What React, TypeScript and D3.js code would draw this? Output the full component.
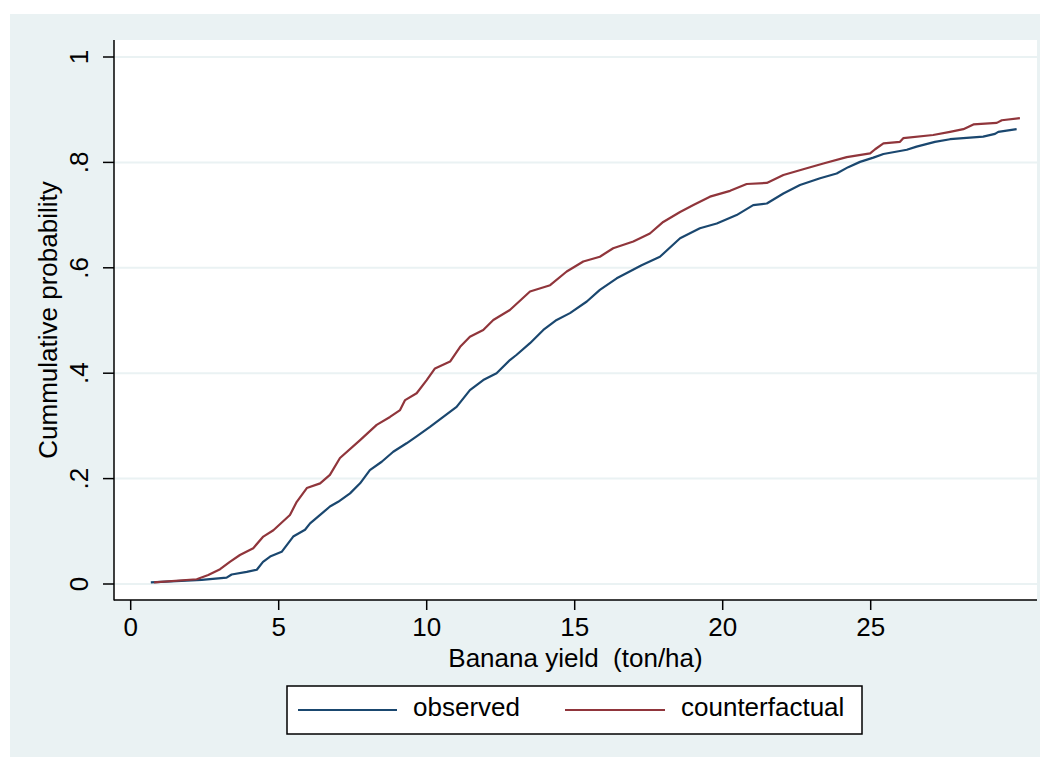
import React from "react";
import * as d3 from "d3";

const obsX = [0.68, 2.4, 3.24, 3.41, 3.92, 4.26, 4.47, 4.71, 5.1, 5.49, 5.89, 6.06, 6.4, 6.73, 7.01, 7.41, 7.75, 8.08, 8.48, 8.87, 9.32, 9.66, 10.11, 10.56, 11.01, 11.46, 11.91, 12.36, 12.81, 13.04, 13.49, 13.94, 14.39, 14.84, 15.41, 15.85, 16.42, 16.76, 17.26, 17.88, 18.56, 19.23, 19.8, 20.47, 21.03, 21.49, 22.05, 22.61, 23.29, 23.85, 24.24, 24.64, 25.09, 25.43, 26.22, 26.55, 27.17, 27.68, 28.8, 29.2, 29.31, 29.93];
const obsY = [0.003, 0.008, 0.012, 0.018, 0.023, 0.027, 0.042, 0.052, 0.061, 0.09, 0.103, 0.115, 0.131, 0.147, 0.156, 0.172, 0.191, 0.216, 0.232, 0.251, 0.267, 0.28, 0.298, 0.317, 0.336, 0.368, 0.387, 0.4, 0.425, 0.435, 0.457, 0.482, 0.501, 0.514, 0.536, 0.558, 0.58, 0.59, 0.605, 0.621, 0.656, 0.675, 0.684, 0.7, 0.719, 0.722, 0.741, 0.757, 0.77, 0.779, 0.791, 0.801, 0.809, 0.816, 0.824, 0.83, 0.839, 0.844, 0.849, 0.854, 0.858, 0.863];

const cfX = [0.79, 2.23, 2.62, 3.02, 3.35, 3.69, 4.14, 4.48, 4.82, 5.38, 5.61, 5.95, 6.4, 6.73, 7.07, 7.75, 8.31, 8.76, 9.1, 9.27, 9.66, 10.0, 10.28, 10.79, 11.13, 11.46, 11.91, 12.25, 12.81, 13.49, 14.17, 14.73, 15.29, 15.85, 16.3, 16.98, 17.54, 17.99, 18.56, 19.01, 19.57, 20.25, 20.81, 21.49, 22.05, 22.72, 23.4, 24.19, 24.98, 25.15, 25.43, 25.99, 26.1, 27.11, 27.68, 28.13, 28.47, 29.26, 29.43, 30.04];
const cfY = [0.003, 0.009, 0.017, 0.028, 0.042, 0.055, 0.068, 0.09, 0.102, 0.131, 0.156, 0.182, 0.191, 0.207, 0.239, 0.273, 0.302, 0.317, 0.33, 0.349, 0.362, 0.387, 0.409, 0.422, 0.45, 0.469, 0.482, 0.501, 0.52, 0.555, 0.567, 0.593, 0.612, 0.621, 0.637, 0.65, 0.665, 0.687, 0.706, 0.719, 0.735, 0.746, 0.759, 0.761, 0.776, 0.787, 0.798, 0.81, 0.817, 0.825, 0.836, 0.839, 0.846, 0.852, 0.858, 0.863, 0.872, 0.875, 0.88, 0.884];

const xTicks = [0, 5, 10, 15, 20, 25];
const yTicks = [0, 0.2, 0.4, 0.6, 0.8, 1];
const yTickLabels = ["0", ".2", ".4", ".6", ".8", "1"];
const seriesNames = ["observed", "counterfactual"];
const seriesColors = ["#1a476f", "#90353b"];

const FONT = "'Liberation Sans', Arial, sans-serif";
const FS = 26;

export default function App() {
  const left = 114, right = 1037, top = 40, bottom = 600;
  const x = d3.scaleLinear().domain([0, 25]).range([130.7, 870.7]);
  const y = d3.scaleLinear().domain([0, 1]).range([584, 57]);

  const line = d3.line<[number, number]>().x(d => x(d[0])).y(d => y(d[1]));
  const obs = obsX.map((v, i) => [v, obsY[i]] as [number, number]);
  const cf = cfX.map((v, i) => [v, cfY[i]] as [number, number]);

  return (
    <svg width={1050} height={761} style={{ position: "absolute", left: 0, top: 0 }} fontFamily={FONT}>
      <rect x={0} y={0} width={1050} height={761} fill="#ffffff" />
      <rect x={10} y={14} width={1030} height={743} fill="#eaf2f3" />
      <rect x={left} y={top} width={right - left} height={bottom - top} fill="#ffffff" />
      {yTicks.map(t => (
        <line key={"g" + t} x1={left} x2={right} y1={y(t)} y2={y(t)} stroke="#eaf2f3" strokeWidth={2} />
      ))}
      <path d={line(obs) || ""} fill="none" stroke={seriesColors[0]} strokeWidth={2.2} strokeLinejoin="round" />
      <path d={line(cf) || ""} fill="none" stroke={seriesColors[1]} strokeWidth={2.2} strokeLinejoin="round" />
      <line x1={left} x2={left} y1={top} y2={bottom + 0.5} stroke="#000" strokeWidth={1.5} />
      <line x1={left} x2={right} y1={bottom} y2={bottom} stroke="#000" strokeWidth={1.5} />
      {yTicks.map((t, i) => (
        <g key={"yt" + t}>
          <line x1={left - 11} x2={left} y1={y(t)} y2={y(t)} stroke="#000" strokeWidth={1.5} />
          <text x={88} y={y(t)} transform={`rotate(-90, 88, ${y(t)})`} textAnchor="middle" fontSize={FS} fill="#000">
            {yTickLabels[i]}
          </text>
        </g>
      ))}
      {xTicks.map(t => (
        <g key={"xt" + t}>
          <line x1={x(t)} x2={x(t)} y1={bottom} y2={bottom + 10} stroke="#000" strokeWidth={1.5} />
          <text x={x(t)} y={636} textAnchor="middle" fontSize={FS} fill="#000">{t}</text>
        </g>
      ))}
      <text x={(left + right) / 2} y={667} textAnchor="middle" fontSize={FS} fill="#000" style={{ whiteSpace: "pre" }}>
        Banana yield  (ton/ha)
      </text>
      <text x={57} y={320} transform="rotate(-90, 57, 320)" textAnchor="middle" fontSize={FS} fill="#000">
        Cummulative probability
      </text>
      <rect x={287} y={686} width={575} height={48} fill="#ffffff" stroke="#000" strokeWidth={1.5} />
      <line x1={298} x2={397} y1={710} y2={710} stroke={seriesColors[0]} strokeWidth={2.2} />
      <text x={413} y={716} fontSize={FS} fill="#000">{seriesNames[0]}</text>
      <line x1={565} x2={665} y1={710} y2={710} stroke={seriesColors[1]} strokeWidth={2.2} />
      <text x={681} y={716} fontSize={FS} fill="#000">{seriesNames[1]}</text>
    </svg>
  );
}
